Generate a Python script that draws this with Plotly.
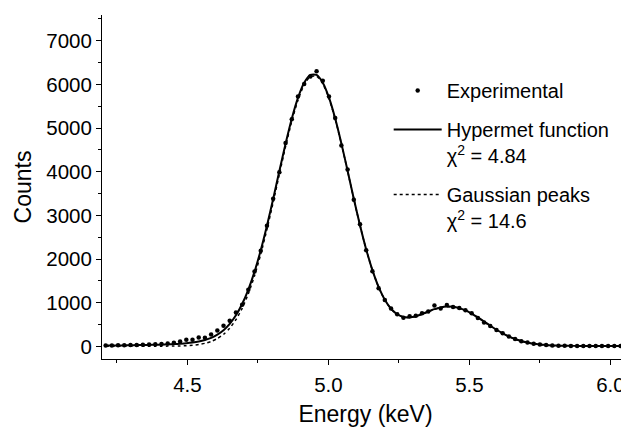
import plotly.graph_objects as go

# Energy channels (keV)
energy = [4.210, 4.232, 4.254, 4.276, 4.298, 4.320, 4.342, 4.364, 4.386, 4.408,
          4.430, 4.452, 4.474, 4.496, 4.518, 4.540, 4.562, 4.584, 4.606, 4.628,
          4.650, 4.672, 4.694, 4.716, 4.738, 4.760, 4.782, 4.804, 4.826, 4.848,
          4.870, 4.892, 4.914, 4.936, 4.958, 4.980, 5.002, 5.024, 5.046, 5.068,
          5.090, 5.112, 5.134, 5.156, 5.178, 5.200, 5.222, 5.244, 5.266, 5.288,
          5.310, 5.332, 5.354, 5.376, 5.398, 5.420, 5.442, 5.464, 5.486, 5.508,
          5.530, 5.552, 5.574, 5.596, 5.618, 5.640, 5.662, 5.684, 5.706, 5.728,
          5.750, 5.772, 5.794, 5.816, 5.838, 5.860, 5.882, 5.904, 5.926, 5.948,
          5.970, 5.992, 6.014, 6.036]

experimental = [22, 20, 24, 25, 30, 32, 38, 42, 50, 58,
                68, 85, 110, 150, 150, 205, 200, 275, 365, 475,
                590, 778, 955, 1297, 1716, 2190, 2760, 3380, 3990, 4660,
                5200, 5720, 6010, 6180, 6300, 6080, 5720, 5230, 4600, 4050,
                3360, 2800, 2200, 1720, 1330, 1060, 870, 735, 655, 690,
                700, 760, 800, 935, 870, 950, 905, 880, 830, 760,
                650, 545, 470, 375, 300, 230, 170, 120, 90, 60,
                45, 32, 22, 18, 16, 12, 12, 10, 10, 9,
                10, 9, 10, 10]

hypermet = [20, 22, 23, 25, 27, 30, 32, 35, 38, 42,
            47, 53, 62, 73, 89, 112, 146, 196, 269, 371,
            516, 712, 970, 1302, 1713, 2203, 2764, 3377, 4016, 4641,
            5215, 5691, 6035, 6215, 6216, 6038, 5696, 5220, 4648, 4021,
            3382, 2775, 2221, 1748, 1362, 1068, 862, 736, 674, 665,
            692, 741, 799, 853, 894, 913, 909, 877, 824, 751,
            664, 570, 473, 382, 301, 230, 171, 125, 89, 62,
            44, 31, 23, 18, 15, 13, 12, 11, 10, 10,
            10, 10, 10, 10]

gaussian = [5, 5, 5, 5, 5, 5, 5, 5, 5, 5,
            7, 8, 11, 17, 27, 44, 71, 114, 180, 277,
            418, 612, 871, 1205, 1619, 2113, 2679, 3297, 3942, 4574,
            5155, 5639, 5990, 6178, 6186, 6015, 5679, 5208, 4639, 4014,
            3377, 2770, 2216, 1743, 1357, 1063, 857, 731, 669, 660,
            687, 736, 794, 848, 889, 908, 904, 872, 819, 746,
            659, 565, 468, 377, 296, 225, 166, 120, 84, 57,
            39, 26, 18, 13, 10, 8, 7, 6, 5, 5,
            5, 5, 5, 5]

x_ticks = [4.5, 5.0, 5.5, 6.0]
x_labels = ["4.5", "5.0", "5.5", "6.0"]
y_ticks = [0, 1000, 2000, 3000, 4000, 5000, 6000, 7000]

FONT = "Liberation Sans, Arial, Helvetica, sans-serif"

fig = go.Figure()
fig.add_trace(go.Scatter(
    x=energy, y=experimental, mode="markers", name="Experimental",
    legendgroup="a",
    marker=dict(color="black", size=4.5)))
fig.add_trace(go.Scatter(
    x=energy, y=hypermet, mode="lines",
    name="Hypermet function<br>χ<sup>2</sup> = 4.84",
    legendgroup="b",
    line=dict(color="black", width=2, shape="spline", smoothing=0.6)))
fig.add_trace(go.Scatter(
    x=energy, y=gaussian, mode="lines",
    name="Gaussian peaks<br>χ<sup>2</sup> = 14.6",
    legendgroup="c",
    line=dict(color="black", width=1.5, dash="dot", shape="spline", smoothing=0.6)))

axis_common = dict(
    showgrid=False, zeroline=False, showline=True, linecolor="black", linewidth=1,
    ticks="outside", ticklen=5, tickwidth=1, tickcolor="black", automargin=False,
    tickfont=dict(family=FONT, size=20.5, color="black"),
)

# The page body has an 8px margin, so the figure is sized to end at the window edge.
fig.update_layout(
    width=621, height=419,
    margin=dict(l=94, r=0, t=7, b=68),
    paper_bgcolor="white", plot_bgcolor="white",
    font=dict(family=FONT, color="black"),
    showlegend=True,
    legend=dict(
        x=0.544, y=0.8375, xanchor="left", yanchor="top",
        bgcolor="rgba(0,0,0,0)", borderwidth=0,
        font=dict(family=FONT, size=20, color="black"),
        valign="top", itemwidth=48, tracegroupgap=10,
    ),
    xaxis=dict(
        **axis_common,
        range=[4.197, 6.066],
        tickvals=x_ticks, ticktext=x_labels,
        ticklabelstandoff=2,
        minor=dict(dtick=0.25, tick0=4.25, ticks="outside", ticklen=3, tickcolor="black"),
        title=dict(text="Energy (keV)", font=dict(family=FONT, size=23, color="black"), standoff=17),
    ),
    yaxis=dict(
        **axis_common,
        range=[-288, 7588],
        tickvals=y_ticks,
        minor=dict(dtick=500, tick0=0, ticks="outside", ticklen=3, tickcolor="black"),
        title=dict(text="Counts", font=dict(family=FONT, size=23, color="black"), standoff=8),
    ),
)

fig.write_html("out.html")
